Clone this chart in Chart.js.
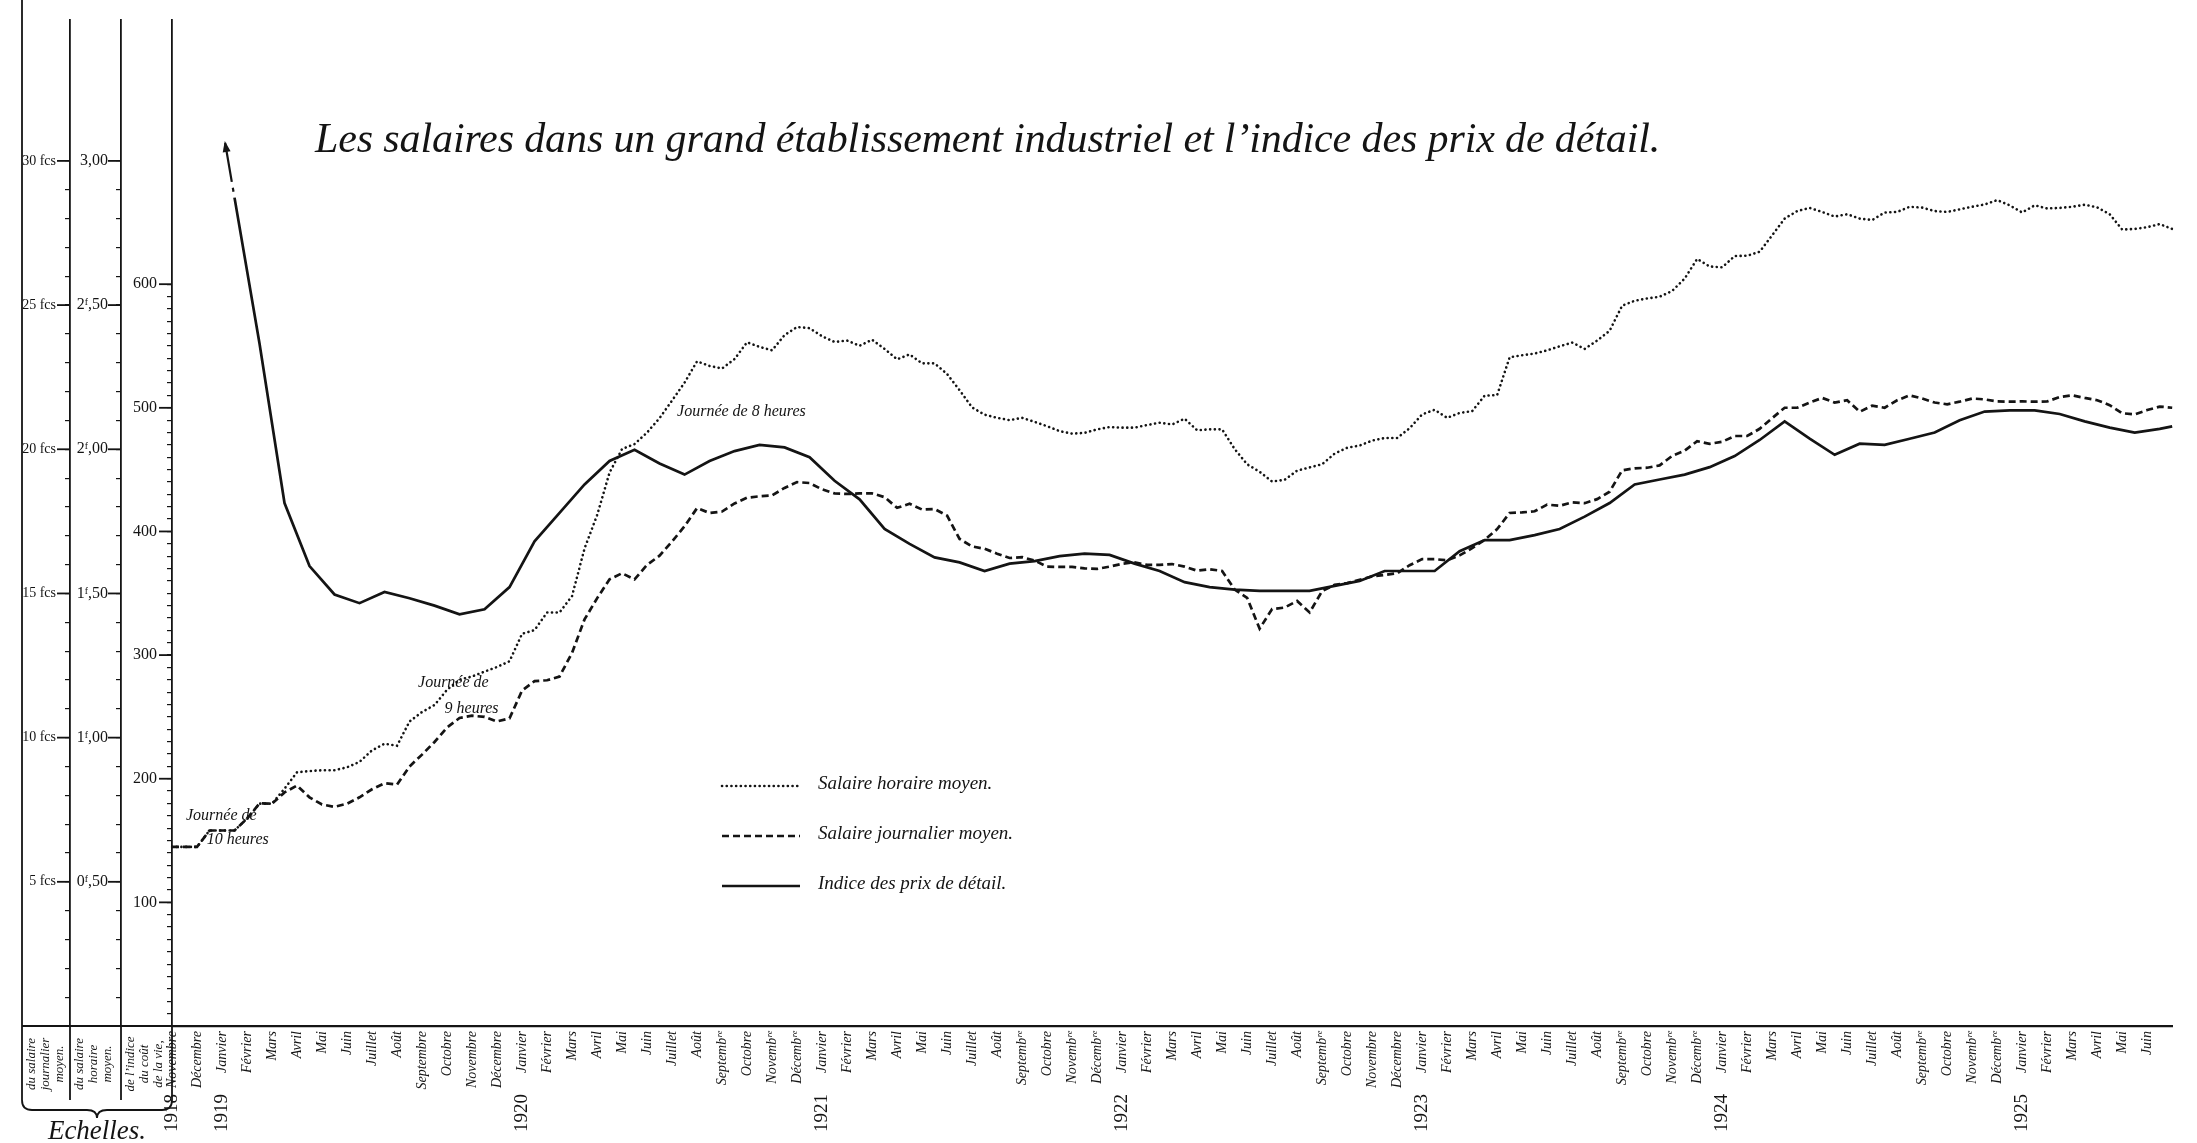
<!DOCTYPE html>
<html lang="fr">
<head>
<meta charset="utf-8">
<title>Les salaires dans un grand établissement industriel</title>
<script src="https://cdn.jsdelivr.net/npm/chart.js@4.4.1/dist/chart.umd.min.js"></script>
<style>
  html, body { margin: 0; padding: 0; background: #fff; }
  #wrap { width: 2197px; height: 1143px; position: relative; }
</style>
</head>
<body>
<div id="wrap"><canvas id="chart"></canvas></div>
<script>
// ---- valeurs : un point par demi-mois, de nov. 1918 à juin 1925 ----
const monthNames = [
  'Novembre', 'Décembre',
  'Janvier', 'Février', 'Mars', 'Avril', 'Mai', 'Juin', 'Juillet', 'Août', 'Septembre', 'Octobre', 'Novembre', 'Décembre',
  'Janvier', 'Février', 'Mars', 'Avril', 'Mai', 'Juin', 'Juillet', 'Août', 'Septembʳᵉ', 'Octobre', 'Novembʳᵉ', 'Décembʳᵉ',
  'Janvier', 'Février', 'Mars', 'Avril', 'Mai', 'Juin', 'Juillet', 'Août', 'Septembʳᵉ', 'Octobre', 'Novembʳᵉ', 'Décembʳᵉ',
  'Janvier', 'Février', 'Mars', 'Avril', 'Mai', 'Juin', 'Juillet', 'Août', 'Septembʳᵉ', 'Octobre', 'Novembre', 'Décembre',
  'Janvier', 'Février', 'Mars', 'Avril', 'Mai', 'Juin', 'Juillet', 'Août', 'Septembʳᵉ', 'Octobre', 'Novembʳᵉ', 'Décembʳᵉ',
  'Janvier', 'Février', 'Mars', 'Avril', 'Mai', 'Juin', 'Juillet', 'Août', 'Septembʳᵉ', 'Octobre', 'Novembʳᵉ', 'Décembʳᵉ',
  'Janvier', 'Février', 'Mars', 'Avril', 'Mai', 'Juin'
];
const yearNames = ['1918', '1919', '1920', '1921', '1922', '1923', '1924', '1925'];
const yearMonthIndex = [0, 2, 14, 26, 38, 50, 62, 74];

// salaire horaire moyen (francs), 161 demi-mois
const hourlyWage = [
  0.621, 0.621, 0.621, 0.678, 0.678, 0.678, 0.719, 0.771, 0.771, 0.823,
  0.880, 0.884, 0.887, 0.887, 0.897, 0.916, 0.956, 0.979, 0.972, 1.056,
  1.089, 1.113, 1.166, 1.201, 1.212, 1.229, 1.245, 1.265, 1.360, 1.373,
  1.434, 1.434, 1.491, 1.656, 1.771, 1.919, 2.001, 2.018, 2.058, 2.108,
  2.169, 2.231, 2.305, 2.289, 2.280, 2.313, 2.371, 2.355, 2.343, 2.396,
  2.424, 2.420, 2.392, 2.372, 2.377, 2.359, 2.380, 2.348, 2.312, 2.329,
  2.298, 2.298, 2.261, 2.205, 2.145, 2.120, 2.109, 2.101, 2.109, 2.095,
  2.080, 2.063, 2.054, 2.057, 2.069, 2.077, 2.075, 2.075, 2.084, 2.092,
  2.086, 2.106, 2.066, 2.069, 2.069, 2.001, 1.948, 1.922, 1.888, 1.894,
  1.926, 1.937, 1.948, 1.985, 2.005, 2.013, 2.030, 2.039, 2.039, 2.073,
  2.121, 2.137, 2.109, 2.126, 2.132, 2.186, 2.188, 2.319, 2.326, 2.332,
  2.343, 2.357, 2.370, 2.348, 2.377, 2.411, 2.498, 2.515, 2.523, 2.529,
  2.549, 2.592, 2.660, 2.634, 2.631, 2.670, 2.671, 2.685, 2.742, 2.800,
  2.826, 2.837, 2.823, 2.807, 2.815, 2.800, 2.795, 2.821, 2.823, 2.841,
  2.838, 2.826, 2.823, 2.832, 2.841, 2.849, 2.864, 2.846, 2.821, 2.846,
  2.835, 2.837, 2.841, 2.848, 2.839, 2.815, 2.762, 2.764, 2.770, 2.781,
  2.764
];

// salaire journalier moyen (francs), 161 demi-mois
const dailyWage = [
  6.21, 6.21, 6.21, 6.78, 6.78, 6.78, 7.19, 7.72, 7.71, 8.10,
  8.34, 7.93, 7.68, 7.60, 7.71, 7.93, 8.21, 8.42, 8.37, 9.00,
  9.41, 9.85, 10.35, 10.68, 10.76, 10.72, 10.56, 10.67, 11.63, 11.96,
  11.99, 12.12, 12.94, 14.10, 14.83, 15.49, 15.70, 15.49, 15.99, 16.31,
  16.80, 17.33, 17.96, 17.79, 17.84, 18.12, 18.32, 18.37, 18.40, 18.66,
  18.86, 18.83, 18.61, 18.47, 18.45, 18.47, 18.47, 18.34, 17.97, 18.11,
  17.91, 17.93, 17.70, 16.89, 16.63, 16.55, 16.38, 16.23, 16.26, 16.14,
  15.93, 15.92, 15.92, 15.87, 15.85, 15.93, 16.03, 16.08, 15.99, 15.99,
  16.02, 15.93, 15.79, 15.84, 15.78, 15.14, 14.85, 13.78, 14.46, 14.51,
  14.74, 14.34, 15.08, 15.30, 15.36, 15.47, 15.59, 15.64, 15.70, 15.98,
  16.19, 16.19, 16.15, 16.32, 16.57, 16.86, 17.23, 17.79, 17.81, 17.85,
  18.08, 18.04, 18.16, 18.13, 18.27, 18.53, 19.27, 19.34, 19.36, 19.44,
  19.77, 19.95, 20.28, 20.19, 20.26, 20.46, 20.46, 20.71, 21.08, 21.44,
  21.44, 21.62, 21.78, 21.62, 21.70, 21.30, 21.51, 21.44, 21.70, 21.87,
  21.76, 21.62, 21.56, 21.65, 21.76, 21.73, 21.66, 21.65, 21.66, 21.65,
  21.66, 21.81, 21.87, 21.78, 21.70, 21.53, 21.25, 21.21, 21.36, 21.48,
  21.44
];

// indice des prix de détail, relevé au milieu de chaque mois (de janv.-fév. 1919 à juin 1925)
const indexMid = [
  670, 552, 423, 372, 349, 342, 351, 346, 340, 333,
  337, 355, 392, 415, 438, 457, 466, 455, 446, 457,
  465, 470, 468, 460, 441, 426, 402, 390, 379, 375,
  368, 374, 376, 380, 382, 381, 374, 368, 359, 355,
  353, 352, 352, 352, 356, 360, 368, 368, 368, 384,
  393, 393, 397, 402, 412, 423, 438, 442, 446, 452,
  461, 474, 489, 475, 462, 471, 470, 475, 480, 490,
  497, 498, 498, 495, 489, 484, 480, 483
];
const indexLast = 485;

const dailyTickValues = [5, 10, 15, 20, 25, 30];
const hourlyTickValues = [0.5, 1, 1.5, 2, 2.5, 3];
const hourlyTickLabels = ['0ᶠ,50', '1ᶠ,00', '1ᶠ,50', '2ᶠ,00', '2ᶠ,50', '3,00'];
const indexTickValues = [100, 200, 300, 400, 500, 600];

const titleText = 'Les salaires dans un grand établissement industriel et l\u2019indice des prix de détail.';
const notes = [
  { text: 'Journée de', month: 0.56, value: 167 },
  { text: '10 heures', month: 1.39, value: 147 },
  { text: 'Journée de', month: 9.84, value: 274 },
  { text: '9 heures', month: 10.9, value: 253 },
  { text: 'Journée de 8 heures', month: 20.2, value: 493 }
];
const scaleNotes = [
  ['du salaire', 'journalier', 'moyen.'],
  ['du salaire', 'horaire', 'moyen.'],
  ['de l\u2019indice', 'du coût', 'de la vie,']
];

// ---- construction des séries sur l'axe des demi-mois ----
const categories = [];
const years = [];
for (let k = 0; k <= 160; k++) {
  const m = k / 2;
  categories.push(k % 2 === 0 && m < monthNames.length ? monthNames[m] : '');
  const yi = yearMonthIndex.indexOf(m);
  years.push(k % 2 === 0 && yi >= 0 ? yearNames[yi] : '');
}
const indexSeries = categories.map((_, k) => {
  if (k === 160) return indexLast;
  if (k % 2 === 1 && k >= 5) return indexMid[(k - 5) / 2];
  return null;
});

const INK = '#141414';
const SERIF = '"Liberation Serif", "DejaVu Serif", serif';

function stepTicks(step, count) {
  return scale => {
    const t = [];
    for (let n = 1; n <= count; n++) t.push({ value: Math.round(n * step * 1000) / 1000 });
    scale.ticks = t;
  };
}

function leftAxis(weight, width, max, pad, fontSize) {
  return {
    position: 'left', weight: weight, min: 0, max: max,
    grid: { drawOnChartArea: false, drawTicks: true, tickLength: 5, color: INK, lineWidth: 1.2 },
    border: { display: true, color: INK, width: 1.8 },
    ticks: { color: INK, padding: pad, autoSkip: false, font: { family: SERIF, size: fontSize } },
    afterFit: s => { s.width = width; }
  };
}

const yDaily = leftAxis(3, 48, 34.9, 9, 14);
yDaily.afterBuildTicks = stepTicks(1, 30);
yDaily.ticks.callback = v => dailyTickValues.includes(v) ? v + ' fcs' : '';

const yHourly = leftAxis(2, 51, 3.49, 8, 16);
yHourly.afterBuildTicks = stepTicks(0.1, 30);
yHourly.ticks.callback = v => {
  const i = hourlyTickValues.findIndex(h => Math.abs(h - v) < 1e-6);
  return i >= 0 ? hourlyTickLabels[i] : '';
};

const yIndex = leftAxis(1, 51, 814, 10, 16);
yIndex.afterBuildTicks = stepTicks(10, 60);
yIndex.ticks.callback = v => indexTickValues.includes(v) ? String(v) : '';

// ---- décor dessiné à la main ----
const majorTicks = {
  id: 'majorTicks',
  afterDraw(chart) {
    const ctx = chart.ctx;
    ctx.save();
    ctx.strokeStyle = INK;
    ctx.lineWidth = 1.8;
    [['yDaily', dailyTickValues], ['yHourly', hourlyTickValues], ['yIndex', indexTickValues]].forEach(([id, vals]) => {
      const s = chart.scales[id];
      vals.forEach(v => {
        const y = s.getPixelForValue(v);
        ctx.beginPath();
        ctx.moveTo(s.right - 13, y);
        ctx.lineTo(s.right, y);
        ctx.stroke();
      });
    });
    ctx.restore();
  }
};

const scriptTitle = {
  id: 'scriptTitle',
  afterDraw(chart) {
    const ctx = chart.ctx;
    ctx.save();
    ctx.fillStyle = INK;
    ctx.font = 'italic 42px ' + SERIF;
    const w = ctx.measureText(titleText).width;
    ctx.letterSpacing = ((1345 - w) / titleText.length).toFixed(2) + 'px';
    ctx.textBaseline = 'alphabetic';
    ctx.fillText(titleText, 315, 152);
    ctx.restore();
  }
};

const inlineLegend = {
  id: 'inlineLegend',
  afterDraw(chart) {
    const ctx = chart.ctx;
    ctx.save();
    chart.data.datasets.forEach((ds, i) => {
      const y = 786 + i * 50;
      ctx.strokeStyle = ds.borderColor;
      ctx.lineWidth = ds.borderWidth;
      ctx.lineCap = ds.borderCapStyle || 'butt';
      ctx.setLineDash(ds.borderDash || []);
      ctx.beginPath();
      ctx.moveTo(722, y);
      ctx.lineTo(800, y);
      ctx.stroke();
      ctx.setLineDash([]);
      ctx.fillStyle = INK;
      ctx.font = 'italic 19px ' + SERIF;
      ctx.textBaseline = 'middle';
      ctx.fillText(ds.label, 818, y - 2);
    });
    ctx.restore();
  }
};

const notesPlugin = {
  id: 'notes',
  afterDraw(chart) {
    const ctx = chart.ctx;
    const xs = chart.scales.x, ys = chart.scales.yIndex;
    ctx.save();
    ctx.fillStyle = INK;
    ctx.font = 'italic 16px ' + SERIF;
    ctx.textBaseline = 'alphabetic';
    notes.forEach(n => ctx.fillText(n.text, xs.getPixelForValue(n.month * 2), ys.getPixelForValue(n.value)));

    // flèche : l'indice sort du cadre en haut
    const meta = chart.getDatasetMeta(2).data;
    const p1 = meta[5], p2 = meta[7];
    const dx = p1.x - p2.x, dy = p1.y - p2.y, len = Math.hypot(dx, dy);
    const ux = dx / len, uy = dy / len;
    const t = (p1.y - 141) / -uy;
    const at = d => [p1.x + ux * d, p1.y + uy * d];
    ctx.strokeStyle = INK;
    ctx.lineWidth = 2.2;
    ctx.beginPath();
    ctx.moveTo(...at(6)); ctx.lineTo(...at(10));
    ctx.moveTo(...at(16)); ctx.lineTo(...at(t - 2));
    ctx.stroke();
    const tip = at(t);
    ctx.beginPath();
    ctx.moveTo(tip[0], tip[1]);
    ctx.lineTo(tip[0] - ux * 11 - uy * 4, tip[1] - uy * 11 + ux * 4);
    ctx.lineTo(tip[0] - ux * 11 + uy * 4, tip[1] - uy * 11 - ux * 4);
    ctx.closePath();
    ctx.fillStyle = INK;
    ctx.fill();
    ctx.restore();
  }
};

const scaleBox = {
  id: 'scaleBox',
  afterDraw(chart) {
    const ctx = chart.ctx;
    const cols = [chart.scales.yDaily, chart.scales.yHourly, chart.scales.yIndex];
    const bottom = chart.chartArea.bottom;
    const left = cols[0].left;
    ctx.save();
    ctx.strokeStyle = INK;
    ctx.lineWidth = 1.8;
    ctx.beginPath();
    ctx.moveTo(left, 0); ctx.lineTo(left, 1100);
    ctx.moveTo(left, bottom); ctx.lineTo(chart.chartArea.left, bottom);
    cols.forEach(s => { ctx.moveTo(s.right, bottom); ctx.lineTo(s.right, 1100); });
    ctx.stroke();
    // accolade
    const r = chart.chartArea.left, mid = (left + r) / 2;
    ctx.beginPath();
    ctx.moveTo(left, 1100);
    ctx.quadraticCurveTo(left, 1110, left + 10, 1110);
    ctx.lineTo(mid - 10, 1110);
    ctx.quadraticCurveTo(mid, 1110, mid, 1118);
    ctx.quadraticCurveTo(mid, 1110, mid + 10, 1110);
    ctx.lineTo(r - 10, 1110);
    ctx.quadraticCurveTo(r, 1110, r, 1100);
    ctx.stroke();

    ctx.fillStyle = INK;
    ctx.font = 'italic 13px ' + SERIF;
    ctx.textAlign = 'center';
    ctx.textBaseline = 'middle';
    scaleNotes.forEach((lines, c) => {
      const x0 = c === 0 ? left : cols[c - 1].right;
      lines.forEach((txt, j) => {
        ctx.save();
        ctx.translate(x0 + 10 + j * 14, 1064);
        ctx.rotate(-Math.PI / 2);
        ctx.fillText(txt, 0, 0);
        ctx.restore();
      });
    });
    ctx.font = 'italic 27px ' + SERIF;
    ctx.textBaseline = 'alphabetic';
    ctx.fillText('Echelles.', mid, 1139);
    ctx.restore();
  }
};

new Chart(document.getElementById('chart'), {
  type: 'line',
  data: {
    labels: categories,
    datasets: [
      {
        label: 'Salaire horaire moyen.',
        data: hourlyWage,
        yAxisID: 'yHourly',
        borderColor: INK,
        borderWidth: 2.6,
        borderDash: [0.1, 4.6],
        borderCapStyle: 'round',
        pointRadius: 0,
        tension: 0
      },
      {
        label: 'Salaire journalier moyen.',
        data: dailyWage,
        yAxisID: 'yDaily',
        borderColor: INK,
        borderWidth: 2.7,
        borderDash: [7, 4],
        pointRadius: 0,
        tension: 0
      },
      {
        label: 'Indice des prix de détail.',
        data: indexSeries,
        yAxisID: 'yIndex',
        borderColor: INK,
        borderWidth: 2.7,
        spanGaps: true,
        pointRadius: 0,
        tension: 0
      }
    ]
  },
  options: {
    responsive: true,
    maintainAspectRatio: false,
    animation: false,
    layout: { padding: { left: 22, right: 9, top: 0, bottom: 9 } },
    plugins: { legend: { display: false }, tooltip: { enabled: false } },
    scales: {
      x: {
        type: 'category', position: 'bottom', offset: false,
        grid: { display: false, drawTicks: false },
        border: { display: true, color: INK, width: 2.2 },
        ticks: { autoSkip: false, minRotation: 90, maxRotation: 90, padding: 5, color: INK,
          font: { family: SERIF, style: 'italic', size: 14 } },
        afterFit: s => { s.height = 66; }
      },
      x2: {
        type: 'category', position: 'bottom', offset: false, labels: years, weight: 1,
        grid: { display: false, drawTicks: false },
        border: { display: false },
        ticks: { autoSkip: false, minRotation: 90, maxRotation: 90, padding: 2, color: INK,
          font: { family: SERIF, size: 19 } },
        afterFit: s => { s.height = 42; }
      },
      yDaily: yDaily,
      yHourly: yHourly,
      yIndex: yIndex
    }
  },
  plugins: [majorTicks, scriptTitle, inlineLegend, notesPlugin, scaleBox]
});
</script>
</body>
</html>
